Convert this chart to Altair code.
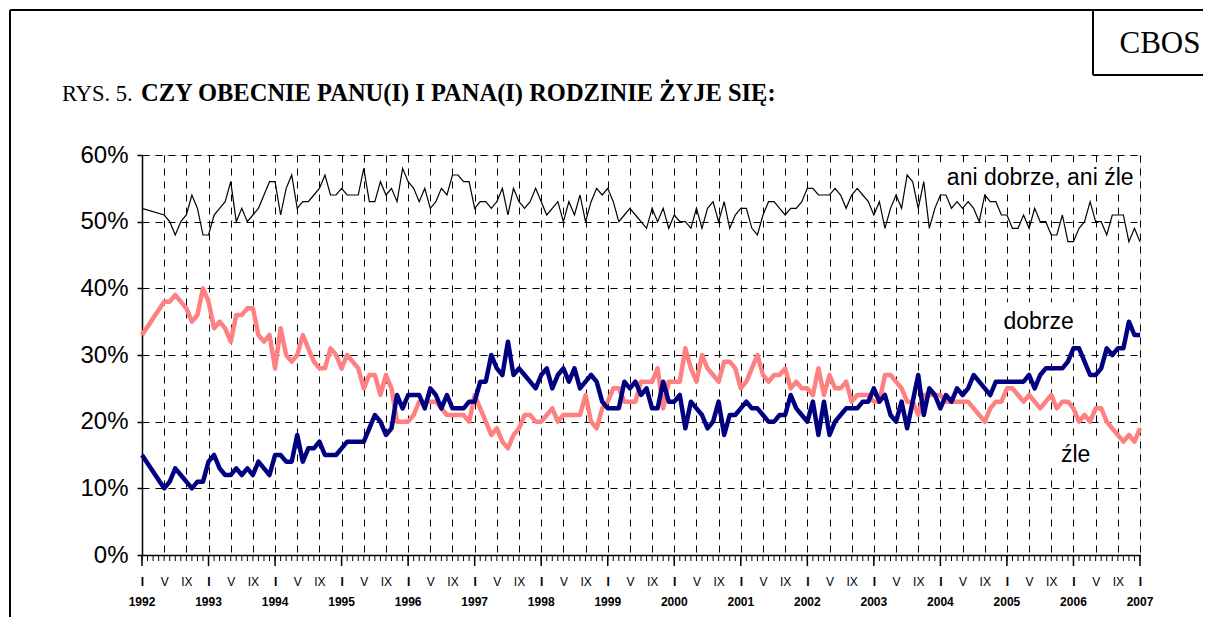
import altair as alt
import pandas as pd

# months counted from January 1992 (0) to January 2007 (180); Feb-Apr 1992 missing
months = [0] + list(range(4, 181))

ani = [52,
       51, 50, 48, 50, 51, 54, 52, 48, 48, 51,
       52, 53, 56, 50, 52, 50, 51, 52, 54, 56,
       56, 51, 55, 57, 52, 53, 53, 54, 55, 57,
       54, 54, 55, 54, 54, 54, 58, 53, 53, 56,
       54, 55, 53, 58, 56, 55, 53, 55, 52, 53,
       55, 54, 57, 57, 56, 56, 52, 53, 53, 52,
       53, 55, 51, 55, 53, 52, 53, 55, 53, 51,
       52, 53, 50, 53, 51, 54, 50, 53, 55, 54,
       55, 53, 50, 51, 52, 51, 50, 49, 52, 50,
       52, 49, 51, 50, 50, 49, 52, 49, 52, 53,
       50, 53, 49, 51, 52, 52, 49, 48, 51, 53,
       53, 52, 51, 52, 52, 53, 55, 55, 54, 54,
       54, 55, 54, 52, 54, 55, 54, 53, 51, 53,
       49, 52, 54, 52, 57, 56, 52, 56, 49, 52,
       54, 54, 52, 53, 52, 53, 52, 50, 54, 53,
       53, 51, 51, 49, 49, 51, 49, 52, 50, 50,
       48, 48, 51, 47, 47, 49, 50, 53, 50, 50,
       48, 51, 51, 51, 47, 49, 47]

dobrze = [15,
          10, 11, 13, 12, 11, 10, 11, 11, 14, 15,
          13, 12, 12, 13, 12, 13, 12, 14, 13, 12,
          15, 15, 14, 14, 18, 14, 16, 16, 17, 15,
          15, 15, 16, 17, 17, 17, 17, 19, 21, 20,
          18, 19, 24, 22, 24, 24, 24, 22, 25, 24,
          22, 24, 22, 22, 22, 23, 23, 26, 26, 30,
          28, 27, 32, 27, 28, 27, 26, 25, 27, 28,
          25, 27, 28, 26, 28, 25, 26, 27, 26, 23,
          22, 22, 22, 26, 25, 26, 24, 25, 22, 22,
          26, 23, 23, 24, 19, 23, 22, 21, 19, 20,
          23, 18, 21, 21, 22, 23, 22, 22, 21, 20,
          20, 21, 21, 24, 22, 21, 20, 23, 18, 23,
          18, 20, 21, 22, 22, 22, 23, 23, 25, 23,
          24, 21, 20, 23, 19, 23, 27, 21, 25, 24,
          22, 24, 23, 25, 24, 25, 27, 26, 25, 24,
          26, 26, 26, 26, 26, 26, 27, 25, 27, 28,
          28, 28, 28, 29, 31, 31, 29, 27, 27, 28,
          31, 30, 31, 31, 35, 33, 33]

zle = [33,
       38, 38, 39, 38, 37, 35, 36, 40, 38, 34,
       35, 34, 32, 36, 36, 37, 37, 33, 32, 33,
       28, 34, 30, 29, 30, 33, 31, 29, 28, 28,
       31, 30, 28, 30, 29, 28, 25, 27, 27, 24,
       27, 25, 20, 20, 20, 21, 23, 23, 23, 23,
       22, 21, 21, 21, 21, 20, 24, 22, 20, 18,
       19, 17, 16, 18, 19, 21, 21, 20, 20, 21,
       22, 20, 21, 21, 21, 21, 24, 20, 19, 22,
       23, 25, 25, 23, 23, 23, 26, 26, 26, 28,
       22, 26, 26, 26, 31, 28, 26, 30, 28, 27,
       26, 29, 29, 28, 25, 26, 28, 30, 27, 26,
       27, 27, 28, 25, 26, 25, 25, 24, 28, 24,
       27, 25, 25, 26, 23, 24, 24, 24, 23, 23,
       27, 27, 26, 25, 23, 23, 21, 24, 24, 24,
       24, 23, 23, 23, 23, 23, 22, 21, 20, 22,
       23, 23, 25, 25, 24, 23, 24, 23, 22, 23,
       24, 22, 23, 23, 22, 20, 21, 20, 22, 22,
       20, 19, 18, 17, 18, 17, 19]

years = list(range(1992, 2008))
y_values = [0, 10, 20, 30, 40, 50, 60]
series_names = ["ani dobrze, ani źle", "dobrze", "źle"]

df = pd.DataFrame({
    "m": months * 3,
    "v": ani + dobrze + zle,
    "s": [series_names[0]] * len(months) + [series_names[1]] * len(months) + [series_names[2]] * len(months),
})
ticks_df = pd.DataFrame({"m": list(range(0, 181))})
years_df = pd.DataFrame({"m": [(y - 1992) * 12 for y in years], "t": [str(y) for y in years]})
labels_df = pd.DataFrame({
    "m": [162.0, 161.7, 168.4],
    "v": [55.5, 33.9, 14.0],
    "t": series_names,
})
# white boxes behind the series labels
boxes_df = pd.DataFrame({
    "m": [143.0, 153.0, 163.8],
    "m2": [180.0, 171.0, 172.5],
    "v": [54.3, 32.6, 13.0],
    "v2": [58.9, 37.9, 17.2],
})

SANS = "Liberation Sans"
SERIF = "Liberation Serif"

x_scale = alt.Scale(domain=[0, 180], nice=False, zero=False)
y_scale = alt.Scale(domain=[0, 60], nice=False, zero=True)
x_axis = alt.Axis(values=list(range(0, 181, 4)),
                  labelExpr="datum.value % 12 == 0 ? 'I' : (datum.value % 12 == 4 ? 'V' : 'IX')",
                  labelFontWeight={"condition": {"test": "datum.value % 12 == 0", "value": "bold"}, "value": "normal"},
                  labelFont=SANS, labelFontSize=12, labelColor="black",
                  labelPadding=21, labelOverlap=False, labelFlush=False,
                  ticks=False, domainColor="black", domainWidth=1.5,
                  grid=True, gridColor="black", gridDash=[7, 6], gridWidth=1,
                  title=None)
y_axis = alt.Axis(values=y_values, labelExpr="datum.value + '%'",
                  labelFont=SANS, labelFontSize=24, labelColor="black", labelPadding=9,
                  tickSize=5, tickColor="black", tickWidth=1.5,
                  domainColor="black", domainWidth=1.5,
                  grid=True, gridColor="black", gridDash=[7, 6], gridWidth=1,
                  title=None)
X = alt.X("m:Q", scale=x_scale, axis=x_axis)
Y = alt.Y("v:Q", scale=y_scale, axis=y_axis)

base = alt.Chart(df).encode(x=X, y=Y)

boxes = alt.Chart(boxes_df).mark_rect(color="white").encode(
    x=X, x2="m2:Q", y=Y, y2="v2:Q")

pink = base.transform_filter(alt.datum.s == "źle").mark_line(
    color="#FF8080", strokeWidth=4.5, strokeJoin="round")
navy = base.transform_filter(alt.datum.s == "dobrze").mark_line(
    color="#000080", strokeWidth=4.5, strokeJoin="round")
black = base.transform_filter(alt.datum.s == "ani dobrze, ani źle").mark_line(
    color="black", strokeWidth=1.2)

minor_ticks = alt.Chart(ticks_df).mark_rule(color="black", strokeWidth=1).encode(
    x=X, y=alt.value(400), y2=alt.value(406))
major_ticks = alt.Chart(ticks_df).transform_filter("datum.m % 12 == 0").mark_rule(
    color="black", strokeWidth=1.5).encode(x=X, y=alt.value(400), y2=alt.value(411))

year_text = alt.Chart(years_df).mark_text(
    font=SANS, fontSize=12, fontWeight="bold", color="black", align="center", baseline="alphabetic"
).encode(x=X, y=alt.value(451), text="t:N")

series_text = alt.Chart(labels_df).mark_text(
    font=SANS, fontSize=23, color="black", align="center", baseline="alphabetic"
).encode(x=X, y=Y, text="t:N")

# decorative frame
frame_df = pd.DataFrame({"k": [0]})
def rule(x1, x2, y1, y2, w=2):
    return alt.Chart(frame_df).mark_rule(color="black", strokeWidth=w).encode(
        x=alt.value(x1), x2=alt.value(x2), y=alt.value(y1), y2=alt.value(y2))

frame = (rule(-132, 1080, -145, -145) + rule(-132, -132, -145, 480) +
         rule(951, 951, -145, -80) + rule(951, 1080, -80, -80))

title1 = alt.Chart(frame_df).mark_text(
    font=SERIF, fontSize=22.5, color="black", align="left", baseline="alphabetic"
).encode(x=alt.value(-80), y=alt.value(-54), text=alt.value("RYS. 5."))
title2 = alt.Chart(frame_df).mark_text(
    font=SERIF, fontSize=24.5, fontWeight="bold", color="black", align="left", baseline="alphabetic"
).encode(x=alt.value(-1), y=alt.value(-54), text=alt.value("CZY OBECNIE PANU(I) I PANA(I) RODZINIE ŻYJE SIĘ:"))
cbos = alt.Chart(frame_df).mark_text(
    font=SERIF, fontSize=31, color="black", align="center", baseline="alphabetic"
).encode(x=alt.value(1018), y=alt.value(-102), text=alt.value("CBOS"))

chart = alt.layer(
    boxes, pink, navy, black, minor_ticks, major_ticks, year_text, series_text,
    frame, title1, title2, cbos
).properties(
    width=998, height=400,
    autosize=alt.AutoSizeParams(type="none"),
    padding={"left": 134, "top": 147, "right": 63, "bottom": 62},
).configure_view(stroke="black", strokeWidth=1.5).configure(background="white")

chart.save("out.html", embed_options={"renderer": "svg", "actions": False})
